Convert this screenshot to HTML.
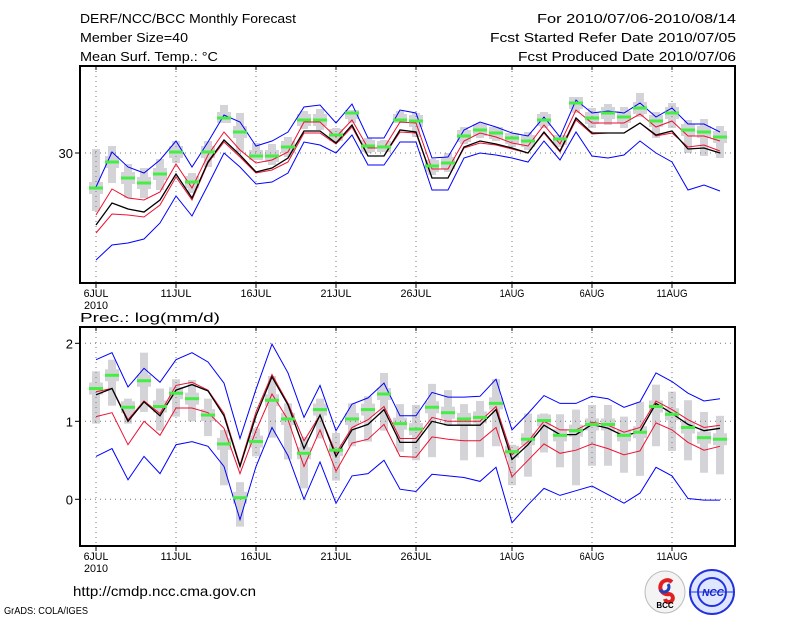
<!DOCTYPE html>
<html><head><meta charset="utf-8"><style>
html,body{margin:0;padding:0;background:#fff;}
svg{display:block;font-family:"Liberation Sans",sans-serif;}
</style></head><body>
<svg id="chart" width="800" height="618" viewBox="0 0 800 618" xmlns="http://www.w3.org/2000/svg">
<rect x="0" y="0" width="800" height="618" fill="#fff"/>
<g font-size="13" fill="#000">
<text x="80" y="23" textLength="216" lengthAdjust="spacingAndGlyphs">DERF/NCC/BCC Monthly Forecast</text>
<text x="80" y="42" textLength="108" lengthAdjust="spacingAndGlyphs">Member Size=40</text>
<text x="80" y="61" textLength="138" lengthAdjust="spacingAndGlyphs">Mean Surf. Temp.: °C</text>
<text x="736" y="23" text-anchor="end" textLength="199" lengthAdjust="spacingAndGlyphs">For 2010/07/06-2010/08/14</text>
<text x="736" y="42" text-anchor="end" textLength="246" lengthAdjust="spacingAndGlyphs">Fcst Started Refer Date 2010/07/05</text>
<text x="736" y="61" text-anchor="end" textLength="218" lengthAdjust="spacingAndGlyphs">Fcst Produced Date 2010/07/06</text>
</g>
<g id="top"></g>
<g id="bot"></g>
<text x="80" y="322" font-size="13" textLength="140" lengthAdjust="spacingAndGlyphs">Prec.: log(mm/d)</text>
<text x="73" y="596" font-size="14" textLength="183" lengthAdjust="spacingAndGlyphs">http://cmdp.ncc.cma.gov.cn</text>
<text x="4" y="614" font-size="10" textLength="84" lengthAdjust="spacingAndGlyphs">GrADS: COLA/IGES</text>
<g>
<ellipse cx="665" cy="592" rx="20" ry="21" fill="#f4f4f4" stroke="#bbb"/>
<path d="M672 582 a7 7 0 1 0 -3 12 a4 4 0 1 1 -4 5" stroke="#e02020" stroke-width="4" fill="none"/>
<path d="M660 590 a5 5 0 1 0 8 -6" stroke="#2040c0" stroke-width="3" fill="none"/>
<text x="665" y="608" font-size="8" text-anchor="middle" font-weight="bold">BCC</text>
</g>
<g>
<ellipse cx="712" cy="592" rx="22" ry="22" fill="#dfe6ff" stroke="#2233dd" stroke-width="2"/>
<ellipse cx="712" cy="592" rx="14" ry="14" fill="none" stroke="#2233dd" stroke-width="2"/>
<line x1="690" y1="592" x2="734" y2="592" stroke="#2233dd"/>
<text x="713" y="596" font-size="10" text-anchor="middle" fill="#1122cc" font-weight="bold" font-style="italic">NCC</text>
</g>
</svg>
<script>
// ---- shared categories ----
const dayCount = 40;
const tickDays = [0,5,10,15,20,26,31,36];
const tickLabels = ["6JUL","11JUL","16JUL","21JUL","26JUL","1AUG","6AUG","11AUG"];
// ---- temperature panel data (°C) ----
const tBlueHi = [26.6,30.1,28.6,28.0,29.3,31.2,28.6,31.1,33.8,33.1,30.7,31.2,32.1,34.6,34.8,33.0,34.9,31.5,31.5,34.3,34.0,29.5,29.6,32.3,33.1,32.6,32.0,31.7,33.6,31.6,35.3,34.0,34.2,34.0,35.0,33.6,34.5,32.9,32.9,32.1];
const tRedHi = [23.8,26.4,25.5,25.3,26.1,28.9,26.5,29.8,32.1,30.3,29.0,29.3,30.1,33.1,33.1,31.6,33.3,30.5,30.5,33.1,33.0,28.4,28.4,31.2,32.0,31.6,31.0,30.7,32.8,30.9,34.3,33.0,33.0,33.0,33.9,32.6,33.2,31.7,31.7,31.2];
const tMean = [22.8,25.0,24.4,24.1,25.3,27.9,25.5,29.1,31.3,29.8,28.1,28.5,29.5,32.2,32.2,31.0,32.8,29.7,29.7,32.3,32.1,27.5,27.5,30.6,31.2,30.9,30.5,30.0,32.1,30.2,33.5,32.0,32.0,32.0,33.0,31.8,32.2,30.4,30.5,30.0];
const tRedLo = [22.0,23.9,23.8,23.6,24.8,27.6,25.3,29.0,31.1,29.6,28.0,28.3,29.1,32.0,32.0,30.9,32.6,29.7,29.7,32.1,32.0,27.5,27.5,30.5,31.0,30.8,30.4,30.0,32.0,30.1,33.3,31.9,32.0,32.0,33.0,31.7,32.0,30.6,30.8,30.2];
const tBlueLo = [19.3,20.8,21.0,21.4,23.0,25.7,23.7,26.8,30.0,28.6,26.9,27.1,28.0,31.1,30.8,30.0,31.8,28.8,28.8,31.1,31.1,26.3,26.3,29.5,30.0,29.8,29.5,29.1,31.2,29.3,32.1,29.7,29.5,29.8,31.2,30.0,29.1,26.3,26.8,26.2];
const tGreen = [26.5,29.1,27.5,27.0,27.9,30.1,27.1,30.1,33.5,32.1,29.7,29.7,30.6,33.3,33.3,31.8,34.0,30.7,30.6,33.3,33.2,28.7,29.0,31.7,32.3,32.0,31.5,31.2,33.3,31.4,35.0,33.5,34.0,33.6,34.5,33.2,34.0,32.3,32.1,31.6];
const tGreyTop = [30.4,30.7,28.9,28.5,29.4,31.2,28.0,31.2,34.8,34.0,31.0,30.9,31.6,34.2,34.4,32.5,34.3,31.5,31.3,34.2,34.0,29.4,30.0,32.6,33.0,32.6,32.0,32.1,34.1,31.8,35.6,34.5,34.9,34.6,36.0,34.1,35.0,33.3,33.4,32.7];
const tGreyBot = [24.2,27.0,25.5,25.5,26.3,29.0,26.0,28.6,33.0,30.1,29.3,28.8,29.6,32.4,32.3,31.1,33.0,30.0,30.1,33.0,31.6,27.8,28.1,30.9,31.5,31.2,30.6,30.3,32.5,30.6,34.0,32.5,32.8,32.5,33.6,31.5,32.5,30.0,29.7,29.5];
const tTicks = [30];
// ---- precipitation panel data (log mm/d) ----
const pBlueHi = [1.79,1.88,1.44,1.68,1.50,1.79,1.88,1.76,1.49,0.78,1.41,1.99,1.62,1.05,1.46,0.88,1.22,1.30,1.49,1.07,1.07,1.37,1.31,1.31,1.32,1.54,0.89,1.10,1.33,1.23,1.23,1.32,1.29,1.18,1.25,1.62,1.51,1.36,1.26,1.29];
const pRedHi = [1.38,1.42,1.02,1.26,1.10,1.46,1.50,1.40,1.10,0.44,1.12,1.60,1.23,0.75,1.08,0.59,0.92,1.02,1.19,0.78,0.78,1.05,1.00,1.00,1.00,1.19,0.57,0.74,1.00,0.89,0.89,0.99,0.95,0.86,0.92,1.26,1.15,1.02,0.92,0.95];
const pMean = [1.34,1.42,1.00,1.25,1.07,1.40,1.47,1.39,1.07,0.42,1.07,1.57,1.21,0.65,1.08,0.55,0.89,0.96,1.15,0.73,0.73,1.00,0.95,0.95,0.95,1.15,0.51,0.70,0.95,0.83,0.83,0.96,0.91,0.81,0.87,1.23,1.10,0.96,0.88,0.91];
const pRedLo = [1.06,1.11,0.70,1.00,0.82,1.17,1.17,1.11,0.91,0.33,0.88,1.35,1.02,0.42,0.89,0.36,0.72,0.77,0.96,0.55,0.54,0.80,0.77,0.75,0.75,0.92,0.29,0.50,0.71,0.59,0.63,0.71,0.65,0.57,0.62,0.98,0.89,0.73,0.63,0.68];
const pBlueLo = [0.55,0.65,0.25,0.55,0.33,0.70,0.74,0.68,0.42,-0.26,0.42,0.92,0.56,0.00,0.48,-0.05,0.30,0.33,0.50,0.13,0.10,0.32,0.30,0.28,0.23,0.41,-0.30,-0.07,0.14,0.05,0.11,0.17,0.06,-0.05,0.08,0.41,0.30,0.01,-0.01,-0.01];
const pGreen = [1.42,1.59,1.18,1.52,1.19,1.36,1.29,1.08,0.71,0.02,0.74,1.27,1.03,0.59,1.15,0.63,1.03,1.15,1.35,0.97,0.90,1.18,1.11,1.03,1.05,1.23,0.61,0.77,1.01,0.82,0.88,0.96,0.96,0.82,0.86,1.19,1.09,0.92,0.79,0.77];
const pGreyTop = [1.64,1.79,1.29,1.88,1.42,1.54,1.53,1.29,0.89,0.22,0.91,1.58,1.23,0.80,1.29,0.85,1.23,1.32,1.62,1.22,1.21,1.48,1.40,1.22,1.26,1.54,0.70,1.10,1.10,1.09,1.15,1.21,1.21,1.06,1.25,1.47,1.38,1.27,1.12,1.07];
const pGreyBot = [0.97,1.20,0.97,1.12,0.88,1.06,1.00,0.81,0.18,-0.35,0.55,0.79,0.51,0.14,0.78,0.24,0.68,0.74,0.88,0.61,0.50,0.54,0.94,0.50,0.54,0.68,0.18,0.29,0.60,0.41,0.18,0.43,0.43,0.34,0.30,0.68,0.62,0.50,0.34,0.32];
const pTicks = [0,1,2];

const NS = "http://www.w3.org/2000/svg";
function mk(tag, attrs, parent){
  const e = document.createElementNS(NS, tag);
  for (const k in attrs) e.setAttribute(k, attrs[k]);
  parent.appendChild(e);
  return e;
}
const X0 = 80, X1 = 735;
function xDay(i){ return 96 + i*16; }

function panel(g, top, bottom, yScale, yticks, series, greyTop, greyBot, green, hasYear, labelY){
  for (let i=0;i<dayCount;i++){
    const yt = yScale(greyTop[i]), yb = yScale(greyBot[i]);
    const r = mk('rect',{x:xDay(i)-4,y:yt,width:8,height:Math.max(1,yb-yt),fill:'#d4d4d8'},g);
    
    
    const yg = yScale(green[i]);
    const b = mk('rect',{x:xDay(i)-7,y:Math.max(yt,yg-6),width:14,height:Math.max(0,Math.min(yb,yg+6)-Math.max(yt,yg-6)),fill:'#d4d4d8'},g);
    
    
  }
  for (const d of tickDays){
    const l = mk('line',{x1:xDay(d),x2:xDay(d),y1:top,y2:bottom,stroke:'#777','stroke-dasharray':'1 4'},g);
    
    
  }
  for (const v of yticks){
    const y = yScale(v);
    const l = mk('line',{x1:X0,x2:X1,y1:y,y2:y,stroke:'#777','stroke-dasharray':'1 4'},g);
    
    
    const t = mk('line',{x1:X0-5,x2:X0,y1:y,y2:y,stroke:'#000','stroke-width':1},g);
    
    
    const tx = mk('text',{x:X0-7,y:y+5,'font-size':13,'text-anchor':'end'},g);
    
    
    tx.textContent = String(v);
  }
  for (const s of series){
    const pts = s.data.map((v,i)=>xDay(i)+','+yScale(v).toFixed(1)).join(' ');
    const p = mk('polyline',{points:pts,fill:'none',stroke:s.color,'stroke-width':s.w},g);
    
    
  }
  for (let i=0;i<dayCount;i++){
    const r = mk('rect',{x:xDay(i)-7,y:yScale(green[i])-1.5,width:14,height:3,fill:'#44ee44'},g);
    
    
  }
  const f = mk('rect',{x:X0,y:top,width:X1-X0,height:bottom-top,fill:'none',stroke:'#000','stroke-width':2},g);
  
  
  tickDays.forEach((d,k)=>{
    const t = mk('line',{x1:xDay(d),x2:xDay(d),y1:bottom,y2:bottom+5,stroke:'#000'},g);
    
    
    const tx = mk('text',{x:xDay(d),y:labelY,'font-size':11,'text-anchor':'middle',textLength:tickLabels[k].length*6.2,lengthAdjust:'spacingAndGlyphs'},g);
    
    
    tx.textContent = tickLabels[k];
    const tk = mk('line',{x1:xDay(d),x2:xDay(d),y1:top,y2:top+4,stroke:'#000'},g);
    
    
  });
  if (hasYear){
    const y = mk('text',{x:xDay(0),y:labelY+12,'font-size':11,'text-anchor':'middle',textLength:24,lengthAdjust:'spacingAndGlyphs'},g);
    
    
    y.textContent = '2010';
  }
}

const tY = v => 153 - (v-30)*10;
const pY = v => 499.3 - v*78;
panel(document.getElementById('top'), 66, 283, tY, tTicks, [
  {data:tBlueHi,color:'#0000ff',w:1,name:'temp-max-line'},
  {data:tBlueLo,color:'#0000ff',w:1,name:'temp-min-line'},
  {data:tRedHi,color:'#ee1133',w:1,name:'temp-upper-line'},
  {data:tRedLo,color:'#ee1133',w:1,name:'temp-lower-line'},
  {data:tMean,color:'#000',w:1.3,name:'temp-mean-line'}
], tGreyTop, tGreyBot, tGreen, true, 297);
panel(document.getElementById('bot'), 327, 546, pY, pTicks, [
  {data:pBlueHi,color:'#0000ff',w:1,name:'precip-max-line'},
  {data:pBlueLo,color:'#0000ff',w:1,name:'precip-min-line'},
  {data:pRedHi,color:'#ee1133',w:1,name:'precip-upper-line'},
  {data:pRedLo,color:'#ee1133',w:1,name:'precip-lower-line'},
  {data:pMean,color:'#000',w:1.3,name:'precip-mean-line'}
], pGreyTop, pGreyBot, pGreen, true, 560);
</script>
</body></html>
